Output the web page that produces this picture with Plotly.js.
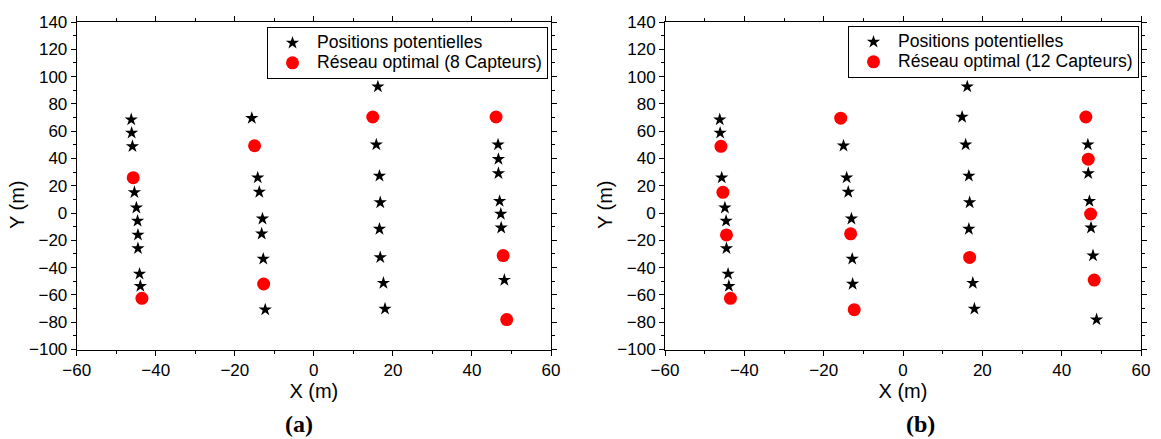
<!DOCTYPE html>
<html>
<head>
<meta charset="utf-8">
<script src="https://cdn.plot.ly/plotly-3.0.1.min.js"></script>
<style>html,body{margin:0;padding:0;background:#fff;}#chart{width:1161px;height:439px;}</style>
</head>
<body>
<div id="chart"></div>
<script>
// Candidate sensor positions (m), same in both panels
const posX = [-46.2, -46.1, -45.9, -45.7, -45.4, -44.9, -44.6, -44.5, -44.5, -44.1, -43.9, -43.5,
              -15.7, -15.0, -14.2, -13.8, -13.0, -13.2, -12.8, -12.7, -12.3,
               16.2,  14.9,  15.8,  16.6,  16.8,  16.6,  16.8,  17.6,  18.0,
               46.1,  46.6,  46.7,  46.7,  47.0,  47.3,  47.4,  47.9,  48.2,  48.8];
const posY = [ 68.5,  58.7,  48.9,  25.9,  15.2,   3.9,  -5.8, -16.0, -25.9, -44.6, -53.5, -62.5,
               69.5,  49.3,  25.9,  15.4,  -4.2, -15.2, -33.6, -52.0, -70.8,
               92.6,  70.4,  50.1,  27.2,   7.7, -11.7, -32.5, -51.3, -70.2,
               70.4,  50.1,  39.5,  29.1,   8.7,  -0.7, -10.8, -31.2, -49.1, -78.1];
// Indices of positions chosen in the optimal network
const selA = [3, 11, 13, 19, 22, 30, 37, 39];                 // 8 sensors
const selB = [2, 4, 7, 11, 12, 17, 20, 27, 30, 32, 35, 38];   // 12 sensors
const nameStar = "Positions potentielles";
const nameA = "Réseau optimal (8 Capteurs)";
const nameB = "Réseau optimal (12 Capteurs)";
const xTicks = [-60, -40, -20, 0, 20, 40, 60];
const yTicks = [-100, -80, -60, -40, -20, 0, 20, 40, 60, 80, 100, 120, 140];

function split(sel) {
  const s = new Set(sel);
  const r = {sx: [], sy: [], cx: [], cy: []};
  posX.forEach((x, i) => {
    if (s.has(i)) { r.cx.push(x); r.cy.push(posY[i]); }
    else { r.sx.push(x); r.sy.push(posY[i]); }
  });
  return r;
}
const A = split(selA), B = split(selB);
const FONT = "Liberation Sans, Arial, sans-serif";
const starM = {symbol: "star", size: 10, color: "#000000", line: {width: 0}};
const circM = {symbol: "circle", size: 13, color: "#ff0000", line: {width: 0}};
const big = t => '<span style="font-size:17.6px">' + t + '</span>';

const traces = [
  {x: A.sx, y: A.sy, type: "scatter", mode: "markers", name: big(nameStar), marker: starM, xaxis: "x", yaxis: "y", legend: "legend"},
  {x: A.cx, y: A.cy, type: "scatter", mode: "markers", name: big(nameA), marker: circM, xaxis: "x", yaxis: "y", legend: "legend"},
  {x: B.sx, y: B.sy, type: "scatter", mode: "markers", name: big(nameStar), marker: starM, xaxis: "x2", yaxis: "y2", legend: "legend2"},
  {x: B.cx, y: B.cy, type: "scatter", mode: "markers", name: big(nameB), marker: circM, xaxis: "x2", yaxis: "y2", legend: "legend2"}
];

const W = 1161, H = 439;
function xa(d0, d1, anchor) {
  return {domain: [d0 / W, d1 / W], anchor: anchor, range: [-60, 60], tickvals: xTicks,
    showgrid: false, zeroline: false, showline: true, linecolor: "#000", linewidth: 1, mirror: "ticks",
    ticks: "outside", ticklen: 5, tickwidth: 1, tickcolor: "#000",
    minor: {dtick: 10, ticklen: 3, tickcolor: "#000", ticks: "outside", showgrid: false},
    tickfont: {family: FONT, size: 17, color: "#000"},
    title: {text: "X (m)", font: {family: FONT, size: 20, color: "#000"}, standoff: 4}};
}
function ya(anchor) {
  return {domain: [1 - 349.5 / H, 1 - 22 / H], anchor: anchor, range: [-100, 140], tickvals: yTicks,
    showgrid: false, zeroline: false, showline: true, linecolor: "#000", linewidth: 1, mirror: "ticks",
    ticks: "outside", ticklen: 5, tickwidth: 1, tickcolor: "#000",
    minor: {dtick: 10, ticklen: 3, tickcolor: "#000", ticks: "outside", showgrid: false},
    tickfont: {family: FONT, size: 17, color: "#000"}};
}
function legendAt(xr, yt) {
  return {x: xr / W, y: 1 - yt / H, xanchor: "right", yanchor: "top", bgcolor: "#fff",
    bordercolor: "#000", borderwidth: 1, font: {family: FONT, size: 13, color: "#000"},
    itemwidth: 39, tracegroupgap: 0};
}
const ann = (text, x, y, size, fam, rot, bold) => ({
  text: bold ? "<b>" + text + "</b>" : text, x: x / W, y: 1 - y / H, xref: "paper", yref: "paper",
  xanchor: "center", yanchor: "middle",
  showarrow: false, textangle: rot || 0, font: {family: fam, size: size, color: "#000"}
});

const layout = {
  width: W, height: H, margin: {l: 0, r: 0, t: 0, b: 0},
  paper_bgcolor: "#fff", plot_bgcolor: "#fff", font: {family: FONT, color: "#000"},
  xaxis: xa(76.7, 551, "y"), yaxis: ya("x"),
  xaxis2: xa(665, 1141, "y2"), yaxis2: ya("x2"),
  legend: legendAt(548, 27), legend2: legendAt(1139, 26),
  annotations: [
    ann("Y (m)", 17, 205, 20, FONT, -90),
    ann("Y (m)", 605, 205, 20, FONT, -90),
    ann("(a)", 299, 424, 24, "Liberation Serif, serif", 0, true),
    ann("(b)", 920, 424, 24, "Liberation Serif, serif", 0, true)
  ]
};
Plotly.newPlot("chart", traces, layout, {staticPlot: true, displayModeBar: false});
</script>
</body>
</html>
